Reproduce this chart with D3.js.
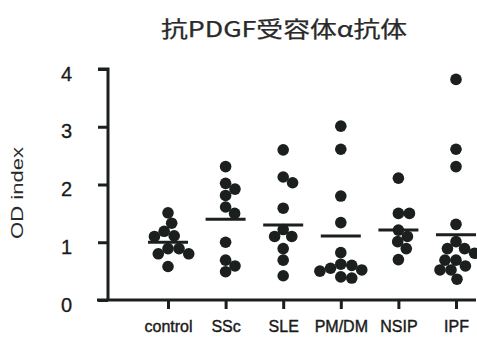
<!DOCTYPE html>
<html>
<head>
<meta charset="utf-8">
<script src="https://cdn.jsdelivr.net/npm/d3@7"></script>
<style>
  body { margin: 0; background: #fff; }
  svg { display: block; }
</style>
</head>
<body>
<svg id="chart" width="477" height="337"></svg>
<script>
// values
var groups = ['control', 'SSc', 'SLE', 'PM/DM', 'NSIP', 'IPF'];
var control = [1.51, 1.33, 1.19, 1.11, 1.10, 0.89, 0.89, 0.80, 0.80, 0.58];
var ssc = [2.31, 2.02, 1.92, 1.81, 1.61, 1.50, 1.00, 0.69, 0.59, 0.49];
var sle = [2.60, 2.13, 2.03, 1.59, 1.22, 1.10, 1.10, 0.89, 0.69, 0.42];
var pmdm = [3.01, 2.61, 1.80, 1.34, 0.82, 0.62, 0.60, 0.55, 0.52, 0.50, 0.40, 0.38];
var nsip = [2.11, 1.50, 1.50, 1.21, 1.10, 1.01, 0.89, 0.70];
var ipf = [3.82, 2.61, 2.31, 1.31, 1.01, 0.89, 0.89, 0.81, 0.69, 0.69, 0.59, 0.52, 0.52, 0.36];
var means = [1.00, 1.40, 1.30, 1.11, 1.21, 1.13];
var yTicks = [0, 1, 2, 3, 4];
var title = '抗PDGF受容体α抗体';
var yTitle = 'OD index';

var series = [control, ssc, sle, pmdm, nsip, ipf];
var ink = '#1b1f1d';
var r = 5.8;

var svg = d3.select('#chart');

var x = d3.scalePoint().domain(groups).range([168, 456]);
var y = d3.scaleLinear().domain([0, 4]).range([300, 69]);

// simple beeswarm: put each dot as close to the centre as it can go
function swarm(values) {
    var placed = [];
    var gap = 2 * r * 0.95;
    values.slice().sort(function(a, b) { return b - a; }).forEach(function(v) {
        var py = y(v);
        var cands = [0];
        placed.forEach(function(p) {
            var dy = p.y - py;
            if (Math.abs(dy) < gap) {
                var dx = Math.sqrt(gap * gap - dy * dy);
                cands.push(p.x + dx, p.x - dx);
            }
        });
        cands.sort(function(a, b) { return Math.abs(a) - Math.abs(b); });
        var best = cands.find(function(c) {
            return placed.every(function(p) {
                var dx = p.x - c, dy = p.y - py;
                return dx * dx + dy * dy >= gap * gap - 0.01;
            });
        });
        placed.push({x: best, y: py, v: v});
    });
    return placed;
}

// title
svg.append('text')
    .attr('x', 284).attr('y', 37)
    .attr('text-anchor', 'middle')
    .attr('textLength', 246)
    .attr('lengthAdjust', 'spacingAndGlyphs')
    .style('font-family', '"Noto Sans CJK JP", "Noto Sans", sans-serif')
    .style('font-size', '22px')
    .style('fill', '#2a2a2a')
    .style('stroke', '#2a2a2a')
    .style('stroke-width', 0.25)
    .text(title);

// y axis
var yAxis = svg.append('g')
    .attr('transform', 'translate(108,0)')
    .call(d3.axisLeft(y).tickValues(yTicks).tickSize(10).tickPadding(26).tickFormat(d3.format('d')));
yAxis.select('.domain').attr('d', 'M-10,' + y(4) + 'H0V' + y(0));
yAxis.selectAll('path, line').attr('stroke', ink).attr('stroke-width', 3);
yAxis.selectAll('text')
    .attr('dy', '0.55em')
    .style('font-family', '"Liberation Sans", Arial, sans-serif')
    .style('font-size', '20px')
    .style('fill', '#1a1a1a')
    .style('stroke', '#1a1a1a')
    .style('stroke-width', 0.3);

svg.append('text')
    .attr('transform', 'translate(23,193) rotate(-90)')
    .attr('text-anchor', 'middle')
    .attr('textLength', 92)
    .attr('lengthAdjust', 'spacingAndGlyphs')
    .style('font-family', '"Liberation Sans", Arial, sans-serif')
    .style('font-size', '17px')
    .style('fill', '#2a2a2a')
    .text(yTitle);

// x axis
var xAxis = svg.append('g')
    .attr('transform', 'translate(0,' + y(0) + ')')
    .call(d3.axisBottom(x).tickSize(9).tickPadding(12));
xAxis.select('.domain').attr('d', 'M97,0H476');
xAxis.selectAll('path, line').attr('stroke', ink).attr('stroke-width', 3);
xAxis.selectAll('text')
    .style('font-family', '"Liberation Sans", Arial, sans-serif')
    .style('font-size', '16px')
    .style('fill', '#1a1a1a')
    .style('stroke', '#1a1a1a')
    .style('stroke-width', 0.4);

// dots
var cols = svg.append('g').selectAll('g')
    .data(series)
    .join('g')
    .attr('transform', function(d, i) { return 'translate(' + x(groups[i]) + ',0)'; });

cols.selectAll('circle')
    .data(function(d) { return swarm(d); })
    .join('circle')
    .attr('cx', function(d) { return d.x; })
    .attr('cy', function(d) { return d.y; })
    .attr('r', r)
    .style('fill', ink);

// mean bars
svg.append('g').selectAll('line')
    .data(means)
    .join('line')
    .attr('x1', function(d, i) { return x(groups[i]) - 20; })
    .attr('x2', function(d, i) { return x(groups[i]) + 20; })
    .attr('y1', function(d) { return y(d); })
    .attr('y2', function(d) { return y(d); })
    .attr('stroke', ink)
    .attr('stroke-width', 3);
</script>
</body>
</html>
